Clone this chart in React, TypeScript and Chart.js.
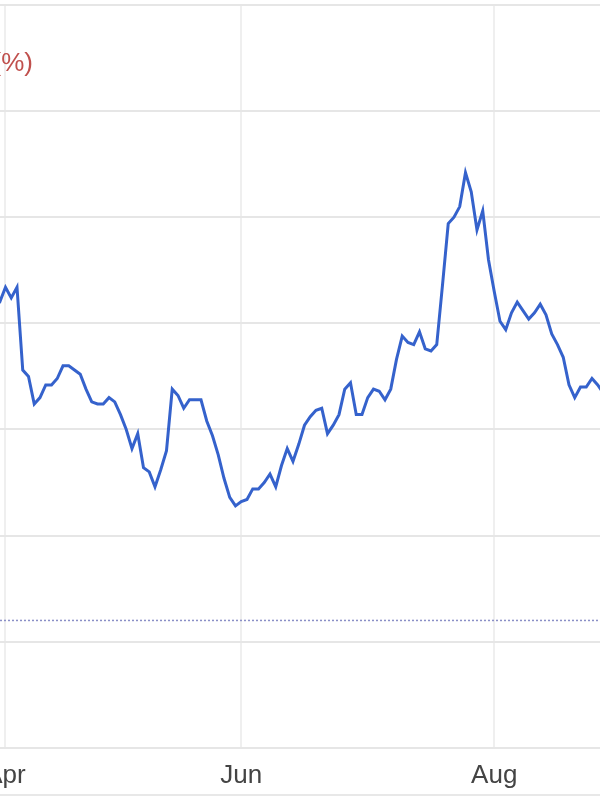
import React, { useEffect, useRef } from "react";
import { Chart, registerables } from "chart.js";

Chart.register(...registerables);

// Trading-day series (percent), one value per session
const SERIES_VALUES: number[] = [
  2.09, 2.10, 2.17, 2.12, 2.17, 1.78, 1.75, 1.62, 1.65, 1.71,
  1.71, 1.74, 1.80, 1.80, 1.78, 1.76, 1.69, 1.63, 1.62, 1.62,
  1.65, 1.63, 1.57, 1.50, 1.41, 1.48, 1.32, 1.30, 1.23, 1.31,
  1.40, 1.69, 1.66, 1.60, 1.64, 1.64, 1.64, 1.54, 1.47, 1.38,
  1.27, 1.18, 1.14, 1.16, 1.17, 1.22, 1.22, 1.25, 1.29, 1.23,
  1.33, 1.41, 1.35, 1.43, 1.52, 1.56, 1.59, 1.60, 1.48, 1.52,
  1.57, 1.69, 1.72, 1.57, 1.57, 1.65, 1.69, 1.68, 1.64, 1.69,
  1.83, 1.94, 1.91, 1.90, 1.96, 1.88, 1.87, 1.90, 2.18, 2.47,
  2.50, 2.55, 2.71, 2.62, 2.44, 2.53, 2.30, 2.15, 2.01, 1.97,
  2.05, 2.10, 2.06, 2.02, 2.05, 2.09, 2.04, 1.95, 1.90, 1.84,
  1.71, 1.65, 1.70, 1.70, 1.74, 1.71, 1.67,
];

// Month tick labels and the session index where each month begins
const MONTH_LABELS: string[] = ["Apr", "Jun", "Aug"];
const MONTH_INDEX: number[] = [2, 43, 87];

// Dotted reference level (percent)
const REFERENCE_LEVEL = 0.6;

// Y gridline values
const Y_MIN = 0;
const Y_MAX = 3.5;
const Y_STEP = 0.5;

// Visible session window
const X_MIN = -8;
const X_MAX = 114.09;

const AXIS_TITLE = "(%)";

const titlePlugin = {
  id: "cornerTitle",
  afterDraw(chart: any) {
    const ctx = chart.ctx;
    ctx.save();
    ctx.font = "26px 'Liberation Sans', Arial, sans-serif";
    ctx.fillStyle = "#c0504d";
    ctx.textAlign = "right";
    ctx.textBaseline = "middle";
    ctx.fillText(AXIS_TITLE, chart.chartArea.left + 85, 64);
    ctx.restore();
  },
};

export default function App() {
  const canvasRef = useRef<HTMLCanvasElement | null>(null);

  useEffect(() => {
    if (!canvasRef.current) return;
    const lineData = SERIES_VALUES.map((v, i) => ({ x: i, y: v }));
    const refData = [
      { x: X_MIN, y: REFERENCE_LEVEL },
      { x: X_MAX, y: REFERENCE_LEVEL },
    ];
    const chart = new Chart(canvasRef.current, {
      type: "line",
      data: {
        datasets: [
          {
            data: refData,
            borderColor: "#8a8fc6",
            borderWidth: 1.5,
            borderDash: [2, 2],
            pointRadius: 0,
            tension: 0,
          },
          {
            data: lineData,
            borderColor: "#3562cc",
            borderWidth: 3,
            pointRadius: 0,
            tension: 0,
            borderJoinStyle: "miter",
          },
        ],
      },
      options: {
        animation: false,
        responsive: false,
        maintainAspectRatio: false,
        layout: { padding: { top: 5, bottom: -3, left: 0, right: 0 } },
        plugins: {
          legend: { display: false },
          tooltip: { enabled: false },
          title: { display: false },
        },
        scales: {
          x: {
            type: "linear",
            min: X_MIN,
            max: X_MAX,
            afterBuildTicks: (scale: any) => {
              scale.ticks = MONTH_INDEX.map((v) => ({ value: v }));
            },
            ticks: {
              autoSkip: false,
              maxRotation: 0,
              padding: 12,
              color: "#444444",
              font: { size: 26, family: "'Liberation Sans', Arial, sans-serif" },
              callback: (value: any) => {
                const k = MONTH_INDEX.indexOf(Number(value));
                return k >= 0 ? MONTH_LABELS[k] : "";
              },
            },
            grid: { color: "#efefef", lineWidth: 2, drawTicks: false },
            border: { display: false },
          },
          y: {
            min: Y_MIN,
            max: Y_MAX,
            ticks: { display: false, stepSize: Y_STEP },
            grid: { color: "#e6e6e6", lineWidth: 2, drawTicks: false },
            border: { display: false },
          },
        },
      },
      plugins: [titlePlugin],
    });
    return () => chart.destroy();
  }, []);

  return (
    <div
      style={{
        position: "fixed",
        left: 0,
        top: 0,
        width: 600,
        height: 800,
        overflow: "hidden",
        background: "#ffffff",
      }}
    >
      <canvas
        ref={canvasRef}
        width={702}
        height={800}
        style={{ position: "absolute", left: -52, top: 0, width: 702, height: 800 }}
      />
      <div
        style={{
          position: "absolute",
          left: 0,
          top: 794,
          width: 600,
          height: 2,
          background: "#e8e8e8",
        }}
      />
    </div>
  );
}
